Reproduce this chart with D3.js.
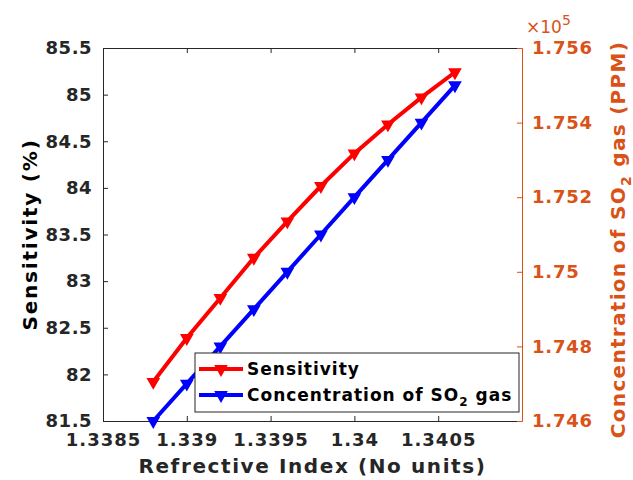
<!DOCTYPE html>
<html>
<head>
<meta charset="utf-8">
<script src="https://cdn.jsdelivr.net/npm/d3@7"></script>
<style>
body{margin:0;background:#fff;}
text{font-family:"DejaVu Sans",sans-serif;font-weight:bold;}
</style>
</head>
<body>
<div id="plot"></div>
<script>
// data
var refIndex = [1.3388,1.3390,1.3392,1.3394,1.3396,1.3398,1.3400,1.3402,1.3404,1.3406];
var sensitivity = [81.92,82.39,82.82,83.25,83.64,84.02,84.37,84.68,84.97,85.24];
var concentration = [174600,174700,174800,174900,175000,175100,175200,175300,175400,175500];
var xTicks = [1.3385,1.339,1.3395,1.34,1.3405];
var yTicks = [81.5,82,82.5,83,83.5,84,84.5,85,85.5];
var y2Ticks = [174600,174800,175000,175200,175400,175600];

var W = 633, H = 480;
var m = {t:48,r:111,b:59,l:103};
var w = W-m.l-m.r, h = H-m.t-m.b;
var ink = '#262626', orange = '#D95319';

var svg = d3.select('#plot').append('svg')
	.attr('width',W).attr('height',H);
var plot = svg.append('g').attr('transform','translate('+m.l+','+m.t+')');

var x = d3.scaleLinear().domain([1.3385,1.341]).range([0,w]);
var y = d3.scaleLinear().domain([81.5,85.5]).range([h,0]);
var y2 = d3.scaleLinear().domain([174600,175600]).range([h,0]);

function styleAxis(g,col,ls){
	g.select('.domain').attr('stroke',col).attr('stroke-width',1);
	g.selectAll('.tick line').attr('stroke',col);
	g.selectAll('.tick text').attr('fill',col).style('font-size','18px').style('letter-spacing',ls+'px');
}

// bottom
plot.append('g').attr('transform','translate(0,'+h+')')
	.call(d3.axisBottom(x).tickValues(xTicks).tickSize(-5).tickSizeOuter(0).tickPadding(12).tickFormat(d3.format('.5~f')))
	.call(styleAxis,ink,1);
// top
plot.append('g')
	.call(d3.axisTop(x).tickValues(xTicks).tickSize(-5).tickSizeOuter(0).tickFormat(''))
	.call(styleAxis,ink,0);
// left
plot.append('g')
	.call(d3.axisLeft(y).tickValues(yTicks).tickSize(-5).tickSizeOuter(0).tickPadding(11).tickFormat(d3.format('.1~f')))
	.call(styleAxis,ink,0.5);
// right
plot.append('g').attr('transform','translate('+w+',0)')
	.call(d3.axisRight(y2).tickValues(y2Ticks).tickSize(-5).tickSizeOuter(0).tickPadding(10).tickFormat(function(d){return d3.format('.3~f')(d/1e5);}))
	.call(styleAxis,orange,0.8);

// exponent
var ex = plot.append('text').attr('x',w+4).attr('y',-15).attr('fill',orange).style('font-size','17px').style('font-weight','normal');
ex.append('tspan').text('\u00d710');
ex.append('tspan').attr('dy',-8).style('font-size','14px').text('5');

var data = refIndex.map(function(r,i){return {x:r,s:sensitivity[i],c:concentration[i]};});
var tri = d3.symbol().type(d3.symbolTriangle).size(45);

function series(acc,scale,col){
	var line = d3.line().x(function(d){return x(d.x);}).y(function(d){return scale(acc(d));});
	plot.append('path').datum(data).attr('d',line)
		.attr('fill','none').attr('stroke',col).attr('stroke-width',4);
	plot.selectAll(null).data(data).enter().append('path')
		.attr('d',tri)
		.attr('transform',function(d){return 'translate('+x(d.x)+','+scale(acc(d))+') rotate(180)';})
		.attr('fill',col).attr('stroke',col).attr('stroke-width',2);
}
series(function(d){return d.s;},y,'#ff0000');
series(function(d){return d.c;},y2,'#0000ff');

// legend
var lg = plot.append('g').attr('transform','translate('+(195-m.l)+','+(353-m.t)+')');
lg.append('rect').attr('width',324).attr('height',59).attr('fill','#fff').attr('stroke',ink).attr('stroke-width',1);
var items = [{t:'Sensitivity',c:'#ff0000'},{t:'Concentration of SO',sub:'2',rest:' gas',c:'#0000ff'}];
items.forEach(function(it,i){
	var yy = 16+i*26;
	lg.append('line').attr('x1',4).attr('x2',48).attr('y1',yy).attr('y2',yy).attr('stroke',it.c).attr('stroke-width',4);
	lg.append('path').attr('d',tri).attr('transform','translate(26,'+yy+') rotate(180)').attr('fill',it.c).attr('stroke',it.c).attr('stroke-width',2);
	var t = lg.append('text').attr('x',52).attr('y',yy+6).attr('fill','#000').style('font-size','17px').style('letter-spacing','1px');
	t.append('tspan').text(it.t);
	if(it.sub){
		t.append('tspan').attr('dy',5).style('font-size','12px').text(it.sub);
		t.append('tspan').attr('dy',-5).text(it.rest);
	}
});

// axis titles
svg.append('text').attr('x',m.l+w/2).attr('y',473).attr('text-anchor','middle').attr('fill',ink).style('font-size','20px').style('letter-spacing','1.6px')
	.text('Refrective Index (No units)');
svg.append('text').attr('transform','translate(37,'+(m.t+h/2)+') rotate(-90)').attr('text-anchor','middle').attr('fill','#000').style('font-size','20px').style('letter-spacing','1.8px')
	.text('Sensitivity (%)');
var rt = svg.append('text').attr('transform','translate(625,'+(m.t+h/2+5)+') rotate(-90)').attr('text-anchor','middle').attr('fill',orange).style('font-size','20px').style('letter-spacing','1.3px');
rt.append('tspan').text('Concentration of SO');
rt.append('tspan').attr('dy',6).style('font-size','14px').text('2');
rt.append('tspan').attr('dy',-6).text(' gas (PPM)');
</script>
</body>
</html>
